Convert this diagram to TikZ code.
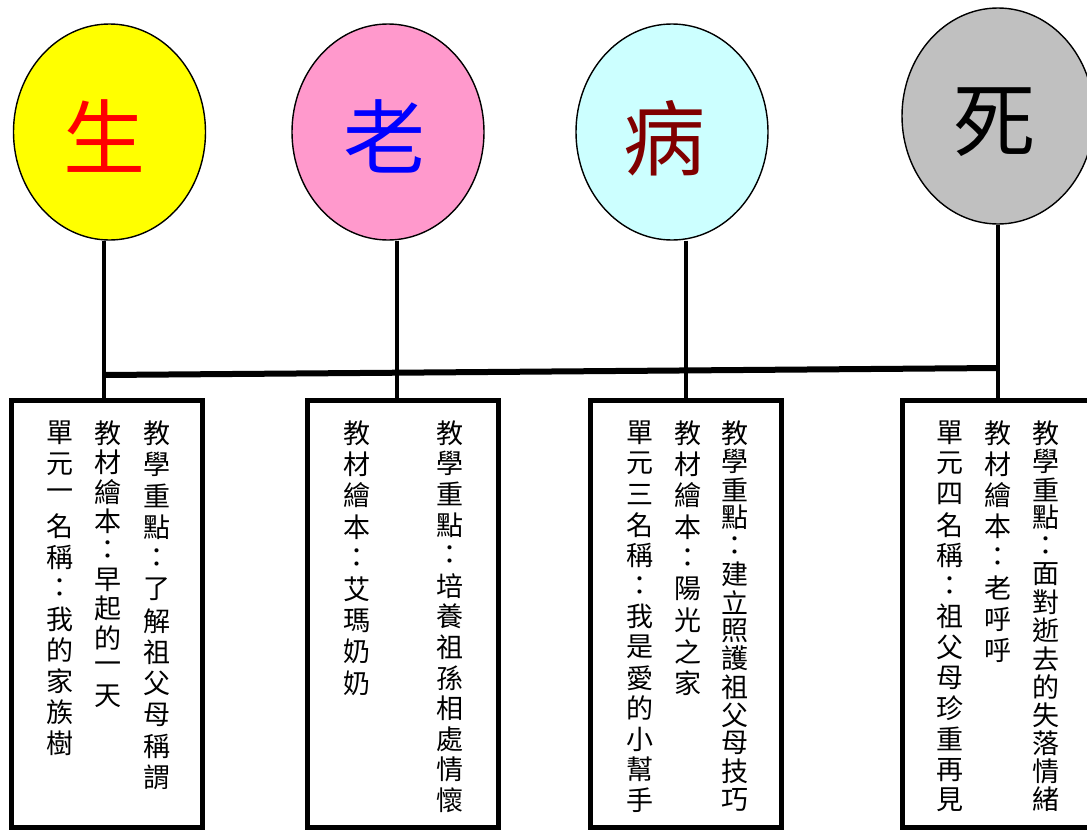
\documentclass[tikz,border=0pt]{standalone}
\usepackage{fontspec}
\newfontfamily\cjk{Noto Sans CJK TC}
\usetikzlibrary{shapes.geometric}
\definecolor{ylw}{HTML}{FFFF00}
\definecolor{pnk}{HTML}{FF99CC}
\definecolor{cyn}{HTML}{CCFFFF}
\definecolor{gry}{HTML}{C0C0C0}
\definecolor{shengc}{HTML}{FF0000}
\definecolor{laoc}{HTML}{0000FF}
\definecolor{bingc}{HTML}{800000}
\definecolor{sic}{HTML}{000000}
\newcommand\vcol[5]{\foreach \ch [count=\i from 0] in {#5}{\node[vchar] (#1-\i) at (#2,{#3+\i*#4}) {\ch};}}
\begin{document}
\begin{tikzpicture}[x=1pt,y=-1pt,
  ell/.style={ellipse, draw=black, line width=1.4pt, minimum width=192pt, minimum height=216pt, inner sep=0pt},
  bigch/.style={font=\cjk\fontsize{82}{82}\selectfont, inner sep=0pt},
  box/.style={draw=black, line width=5pt, minimum width=191pt, minimum height=427pt, inner sep=0pt},
  vchar/.style={font=\cjk\fontsize{27}{27}\selectfont, inner sep=0pt},
  conn/.style={line width=3.6pt},
  bar/.style={line width=6pt}]
\useasboundingbox (0,0) rectangle (1087,830);
\fill[white] (0,0) rectangle (1087,830);
\clip (0,0) rectangle (1087,830);
% ellipses
\node[ell, fill=ylw] (e1) at (109.5,132) {};
\node[ell, fill=pnk] (e2) at (388,132) {};
\node[ell, fill=cyn] (e3) at (672,132) {};
\node[ell, fill=gry] (e4) at (998,116) {};
\node[bigch, text=shengc] (g1) at (104,136) {生};
\node[bigch, text=laoc] (g2) at (384,136) {老};
\node[bigch, text=bingc] (g3) at (664,138) {病};
\node[bigch, text=sic] (g4) at (994,122) {死};
% boxes
\node[box] (b1) at (106.5,613.5) {};
\node[box] (b2) at (402.5,613.5) {};
\node[box] (b3) at (685.5,613.5) {};
\node[box] (b4) at (997.5,613.5) {};
% connector points on box tops
\coordinate (t1) at (104,400);
\coordinate (t2) at (397,400);
\coordinate (t3) at (686,400);
\coordinate (t4) at (998,400);
\coordinate (h1) at (104,375);
\coordinate (h4) at (998,368);
\draw[conn] (t1 |- e1.south) -- (t1);
\draw[conn] (t2 |- e2.south) -- (t2);
\draw[conn] (t3 |- e3.south) -- (t3);
\draw[conn] (t4 |- e4.south) -- (t4);
\draw[bar] (h1) -- (h4);
% texts
\vcol{a1}{157}{433}{31.3}{教,學,重,點,：,了,解,祖,父,母,稱,謂}
\vcol{a2}{108}{433}{29.3}{教,材,繪,本,：,早,起,的,一,天}
\vcol{a3}{60}{433}{31}{單,元,一,名,稱,：,我,的,家,族,樹}
\vcol{bb1}{450}{433}{30.6}{教,學,重,點,：,培,養,祖,孫,相,處,情,懷}
\vcol{bb2}{357}{433}{31.25}{教,材,繪,本,：,艾,瑪,奶,奶}
\vcol{c1}{735}{433}{28.2}{教,學,重,點,：,建,立,照,護,祖,父,母,技,巧}
\vcol{c2}{688}{433}{31.25}{教,材,繪,本,：,陽,光,之,家}
\vcol{c3}{640}{433}{30.6}{單,元,三,名,稱,：,我,是,愛,的,小,幫,手}
\vcol{d1}{1046}{433}{28.2}{教,學,重,點,：,面,對,逝,去,的,失,落,情,緒}
\vcol{d2}{998}{433}{31}{教,材,繪,本,：,老,呼,呼}
\vcol{d3}{950}{433}{30.6}{單,元,四,名,稱,：,祖,父,母,珍,重,再,見}
\end{tikzpicture}
\end{document}
